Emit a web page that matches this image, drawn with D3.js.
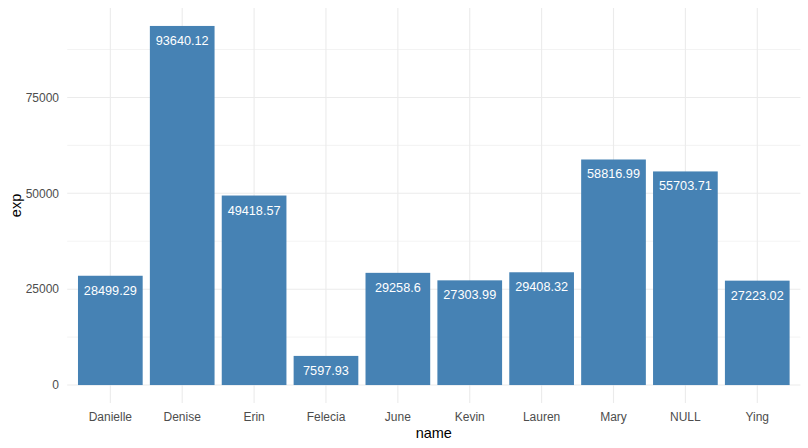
<!DOCTYPE html>
<html><head><meta charset="utf-8">
<script src="https://cdn.jsdelivr.net/npm/d3@7"></script>
<style>body{margin:0;background:#fff;font-family:"Liberation Sans",Arial,sans-serif;}</style>
</head><body><svg id="c" width="808" height="448"></svg>
<script>
const names = ["Danielle","Denise","Erin","Felecia","June","Kevin","Lauren","Mary","NULL","Ying"];
const exps = [28499.29,93640.12,49418.57,7597.93,29258.6,27303.99,29408.32,58816.99,55703.71,27223.02];
const labels = ["28499.29","93640.12","49418.57","7597.93","29258.6","27303.99","29408.32","58816.99","55703.71","27223.02"];
const yTicks = [0,25000,50000,75000];
const yMinor = [12500,37500,62500,87500];

const svg = d3.select("#c");
const L = 67.2, R = 800.4, T = 8, B = 403;
const maxV = d3.max(exps);
const y = d3.scaleLinear().domain([-0.05*maxV, 1.05*maxV]).range([B, T]);
const n = names.length;
const step = (R-L)/(n-1+1.2);
const x = d3.scaleBand().domain(names).range([L+0.6*step-step/2, R-0.6*step+step/2]).paddingInner(0.1).paddingOuter(0.05);
const cx = d => x(d)+x.bandwidth()/2;

const g = svg.append("g");
g.selectAll(".mn").data(yMinor).join("line").attr("x1",L).attr("x2",R).attr("y1",d=>y(d)).attr("y2",d=>y(d)).attr("stroke","#F0F0F0").attr("stroke-width",0.8);
g.selectAll(".mj").data(yTicks).join("line").attr("x1",L).attr("x2",R).attr("y1",d=>y(d)).attr("y2",d=>y(d)).attr("stroke","#EBEBEB").attr("stroke-width",1.1);
g.selectAll(".vx").data(names).join("line").attr("x1",cx).attr("x2",cx).attr("y1",T).attr("y2",B).attr("stroke","#EBEBEB").attr("stroke-width",1.1);

g.selectAll("rect").data(names).join("rect")
 .attr("x",d=>x(d)).attr("width",x.bandwidth())
 .attr("y",(d,i)=>y(exps[i])).attr("height",(d,i)=>y(0)-y(exps[i]))
 .attr("fill","#4682B4");
g.selectAll(".lb").data(names).join("text")
 .attr("x",cx).attr("y",(d,i)=>y(exps[i])+19)
 .attr("text-anchor","middle").attr("fill","#fff").attr("font-size","12.7px")
 .text((d,i)=>labels[i]);

g.selectAll(".yl").data(yTicks).join("text")
 .attr("x",59).attr("y",d=>y(d)+4.3).attr("text-anchor","end")
 .attr("fill","#4D4D4D").attr("font-size","12px").text(d=>d);
g.selectAll(".xl").data(names).join("text")
 .attr("x",cx).attr("y",421).attr("text-anchor","middle")
 .attr("fill","#4D4D4D").attr("font-size","12px").text(d=>d);
svg.append("text").attr("x",(L+R)/2).attr("y",438).attr("text-anchor","middle").attr("font-size","14.5px").attr("fill","#000").text("name");
svg.append("text").attr("transform",`translate(21,${(T+B)/2}) rotate(-90)`).attr("text-anchor","middle").attr("font-size","14.5px").attr("fill","#000").text("exp");
</script></body></html>
